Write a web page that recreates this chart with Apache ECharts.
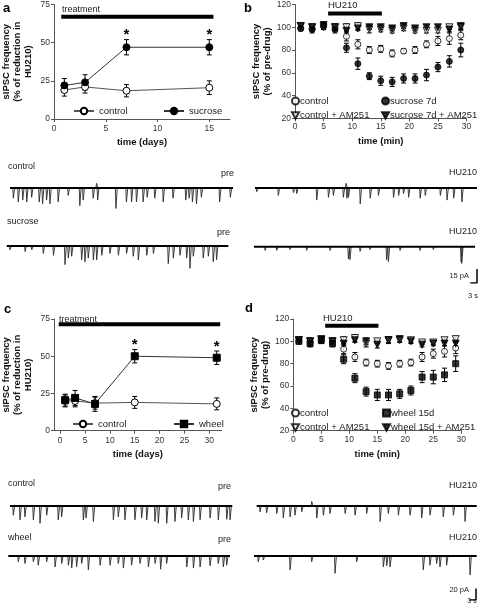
<!DOCTYPE html>
<html><head><meta charset="utf-8">
<script src="https://cdn.jsdelivr.net/npm/echarts@6/dist/echarts.min.js"></script>
<style>html,body{margin:0;padding:0;background:#fff}
#wrap{position:relative;width:480px;height:605px}
#p,#t{position:absolute;left:0;top:0;width:480px;height:605px}
#t{pointer-events:none}</style>
</head><body><div id="wrap"><div id="p"></div><div id="t"></div></div><script>
// ---------------- Panel a ----------------
const aDays = [1, 3, 7, 15];
const aControl = [19, 21, 18.5, 20.5];
const aControlErr = [4, 4, 4, 4.5];
const aSucrose = [22, 24, 47, 47];
const aSucroseErr = [4.5, 5, 5, 5];
const aStarDays = [7, 15];
const aTreatment = [0.7, 15.4];
const aTreatmentLevel = 67;
const aXTicks = [0, 5, 10, 15];

// ---------------- Panel b ----------------
const bTime = [1,3,5,7,9,11,13,15,17,19,21,23,25,27,29];
const bControl = [99,99,101,100,92,85,80,81,77,79,80,85,88,90,93];
const bControlErr = [2,2,3,3,4,4,3,3,3,2,3,3,4,5,4];
const bControlAM = [101,100,100,100,100,101,98,98,97,99,97,97,97,100,100];
const bControlAMErr = [2,2,2,2,3,3,3,2,2,2,2,2,2,2,2];
const bSucrose = [99,98,101,98,82,68,57,53,52,55,55,58,65,70,80];
const bSucroseErr = [2,3,3,3,4,5,3,4,4,4,4,5,4,5,6];
const bSucroseAM = [101,100,102,100,97,99,100,100,99,101,99,100,100,98,101];
const bSucroseAMErr = [2,2,2,2,2,2,2,2,2,2,2,2,2,2,2];
const bHU210 = [5.8, 15.2];
const bHU210Level = 112;

// ---------------- Panel c ----------------
const cDays = [1, 3, 7, 15, 31.5];
const cControl = [20, 20, 18.5, 19, 18];
const cControlErr = [4, 4, 4, 4, 4];
const cWheel = [20.5, 22, 18, 50, 49];
const cWheelErr = [4, 5, 5, 4.5, 4.5];
const cStarDays = [15, 31.5];
const cTreatment = [-0.3, 32.2];
const cTreatmentLevel = 71.5;
const cXTicks = [0, 5, 10, 15, 20, 25, 30];

// ---------------- Panel d ----------------
const dTime = [1,3,5,7,9,11,13,15,17,19,21,23,25,27,29];
const dControl = [100,99,101,100,93,86,81,80,78,80,81,86,89,91,94];
const dControlErr = [2,3,3,3,4,4,3,3,3,3,3,4,4,5,5];
const dControlAM = [101,100,101,100,101,103,98,100,101,101,101,99,99,101,102];
const dControlAMErr = [3,3,2,2,3,3,3,2,2,2,2,2,2,2,2];
const dWheel = [100,98,101,98,84,67,55,52,52,53,56,68,68,70,80];
const dWheelErr = [2,3,3,3,4,4,4,5,5,4,4,5,6,6,7];
const dWheelAM = [101,100,102,100,98,101,100,97,101,102,100,97,98,98,98];
const dWheelAMErr = [2,2,2,2,2,2,3,3,3,2,2,2,2,2,2];
const dHU210 = [5.7, 15.2];
const dHU210Level = 114;

// ---------------- Traces: spikes [time s, amplitude pA] ----------------
const traceDuration = 100;
const tControlPre1 = [[1.5,11],[3.7,15],[5.7,13],[7.5,15],[9.7,10],[13.1,15],[14.6,17],[16.4,13],[17.9,17],[21.6,15],[26.1,8],[31.3,19],[32.8,13],[37.3,11],[38.8,-5],[39.3,13],[47.5,22],[52.2,15],[54.5,15],[56.7,15],[59.7,15],[61.5,10],[64.9,11],[68.7,15],[73.1,11],[78.8,13],[80.3,11],[81.8,15],[83.6,17],[85.8,10],[94.0,15],[98.8,10]];
const tControlHU1 = [[0.8,4],[10.5,8],[17.3,5],[18.8,6],[27.8,13],[33.1,10],[35.3,8],[39.8,10],[41.0,-5],[41.4,11],[42.1,10],[47.4,17],[51.9,11],[55.6,8],[62.4,10],[64.7,8],[66.9,6],[69.2,10],[74.4,11],[76.7,8],[83.5,8],[86.5,13],[89.5,11],[93.2,15]];
const tSucrosePre = [[1.5,4],[8.3,6],[11.3,4],[16.5,8],[21.1,10],[26.3,20],[27.8,13],[29.3,11],[33.8,15],[35.3,17],[36.8,13],[39.1,15],[40.6,15],[42.9,10],[46.6,8],[50.4,10],[54.1,8],[57.1,11],[59.4,15],[63.2,10],[66.2,8],[72.9,19],[75.2,13],[78.2,10],[81.2,13],[82.7,24],[84.2,11],[88.7,13],[91.0,11],[93.2,17],[94.7,15]];
const tSucroseHU = [[5.0,4],[10.3,4],[16.3,3],[23.8,4],[34.4,4],[42.7,13],[43.4,14],[48.0,5],[52.5,3],[60.0,14],[60.8,16],[66.1,4],[75.1,4],[81.1,3],[93.7,16],[94.0,18]];
const tControlPre2 = [[1.5,16],[4.5,24],[6.7,19],[10.5,24],[13.5,30],[16.5,16],[21.7,24],[23.2,19],[33.0,24],[34.2,21],[37.5,27],[46.5,24],[48.7,19],[51.7,24],[56.2,24],[59.2,21],[61.5,24],[65.2,27],[66.7,30],[70.5,30],[74.2,27],[77.2,21],[80.2,24],[82.5,27],[85.5,24],[90.0,21],[93.7,24],[97.5,23],[99.0,24]];
const tControlHU2 = [[1.5,10],[4.5,12],[9.1,13],[12.1,21],[15.2,19],[17.4,16],[20.5,10],[25.0,-8],[27.3,21],[30.3,16],[33.3,13],[40.2,13],[44.7,16],[50.0,13],[56.1,27],[59.8,13],[64.4,16],[69.7,16],[75.0,21],[78.8,16],[84.8,19],[89.4,16],[94.7,27]];
const tWheelPre = [[4.5,10],[7.5,13],[11.3,10],[13.5,16],[17.3,10],[21.1,19],[24.1,13],[27.1,16],[28.6,21],[30.8,19],[33.1,13],[36.1,24],[41.4,16],[45.9,16],[49.6,13],[51.9,21],[55.6,16],[59.4,13],[63.2,19],[66.2,13],[68.7,23],[71.4,13],[80.5,19],[83.5,21],[86.5,19],[91.0,17],[94.7,13],[97.0,19],[98.5,16]];
const tWheelHU = [[1.9,10],[4.2,7],[16.2,24],[25.9,10],[36.4,30],[46.1,10],[58.1,19],[59.6,17],[61.1,19],[76.0,24],[79.0,16],[82.0,13],[83.5,19],[86.5,16],[97.0,33]];
const scaleBar1 = {time: 3, current: 15};
const scaleBar2 = {time: 3, current: 20};

// ======================================================================
const FONT = '"Liberation Sans", Arial, Helvetica, sans-serif';
const AX = '#555';
function txt(text, x, y, opts) {
  return {type: 'text', x, y, silent: true, style: Object.assign({text, font: '9px ' + FONT, fill: '#222',
    align: 'left', verticalAlign: 'middle'}, opts || {})};
}

// ================= Chart 1: the four plots =================
(function () {
  const grids = [], xAxes = [], yAxes = [], series = [], legends = [];
  function addGrid(g) { grids.push(Object.assign({containLabel: false}, g)); return grids.length - 1; }
  function axisBase(extra) {
    return Object.assign({
      type: 'value',
      axisLine: {show: true, onZero: false, lineStyle: {color: AX, width: 1}},
      axisTick: {show: true, length: 3, lineStyle: {color: AX}},
      axisLabel: {fontSize: 8.5, color: '#333', margin: 4, fontFamily: FONT},
      splitLine: {show: false}
    }, extra);
  }
  const nameStyle = {fontSize: 9.5, fontWeight: 'bold', color: '#111', fontFamily: FONT, lineHeight: 11};
  function errBars(ax, xs, ys, es) {
    return {
      type: 'custom', xAxisIndex: ax, yAxisIndex: ax, z: 2, silent: true,
      data: xs.map((x, i) => [x, ys[i], es[i]]),
      encode: {x: 0, y: 1},
      renderItem(params, api) {
        const x = api.value(0), y = api.value(1), e = api.value(2);
        const t = api.coord([x, y + e]), b = api.coord([x, y - e]);
        const w = 2.5, st = {stroke: '#000', lineWidth: 1};
        return {type: 'group', children: [
          {type: 'line', shape: {x1: t[0], y1: t[1], x2: b[0], y2: b[1]}, style: st},
          {type: 'line', shape: {x1: t[0]-w, y1: t[1], x2: t[0]+w, y2: t[1]}, style: st},
          {type: 'line', shape: {x1: b[0]-w, y1: b[1], x2: b[0]+w, y2: b[1]}, style: st}
        ]};
      }
    };
  }
  function stars(ax, starXs, xs, ys, es) {
    return {
      type: 'custom', xAxisIndex: ax, yAxisIndex: ax, z: 4, silent: true,
      data: starXs.map(sx => { const i = xs.indexOf(sx); return [sx, ys[i] + es[i]]; }),
      encode: {x: 0, y: 1},
      renderItem(params, api) {
        const p = api.coord([api.value(0), api.value(1)]);
        return {type: 'text', x: p[0], y: p[1] + 3,
          style: {text: '*', font: 'bold 15px ' + FONT, fill: '#000', align: 'center', verticalAlign: 'bottom'}};
      }
    };
  }
  function bar(ax, range, level) {
    return {type: 'line', xAxisIndex: ax, yAxisIndex: ax, symbol: 'none', silent: true, z: 1,
      lineStyle: {color: '#000', width: 4}, data: [[range[0], level], [range[1], level]]};
  }
  const openStyle = {color: '#fff', borderColor: '#000', borderWidth: 1};
  const fillStyle = {color: '#000', borderColor: '#000', borderWidth: 1};
  function scat(ax, name, xs, ys, symbol, style, size, rot) {
    return {type: 'scatter', name, xAxisIndex: ax, yAxisIndex: ax, z: 3, symbol, symbolSize: size, symbolRotate: rot || 0,
      itemStyle: style, data: xs.map((x, i) => [x, ys[i]])};
  }

  // Panel a
  const gA = addGrid({left: 54, top: 4, width: 176, height: 115});
  xAxes.push(axisBase({gridIndex: gA, min: 0, max: 17,
    axisLabel: {fontSize: 8.5, color: '#333', margin: 5, fontFamily: FONT, customValues: aXTicks},
    axisTick: {show: true, length: 3, lineStyle: {color: AX}, customValues: aXTicks},
    name: 'time (days)', nameLocation: 'middle', nameGap: 18, nameTextStyle: nameStyle}));
  yAxes.push(axisBase({gridIndex: gA, min: 0, max: 75, interval: 25,
    name: 'sIPSC frequency\n(% of reduction in\nHU210)', nameLocation: 'middle', nameGap: 20, nameTextStyle: nameStyle}));
  series.push(bar(gA, aTreatment, aTreatmentLevel));
  series.push(errBars(gA, aDays, aControl, aControlErr));
  series.push(errBars(gA, aDays, aSucrose, aSucroseErr));
  series.push({type: 'line', name: 'a:control', xAxisIndex: gA, yAxisIndex: gA, z: 3, symbol: 'circle', symbolSize: 7,
    itemStyle: openStyle, lineStyle: {color: '#555', width: 1}, data: aDays.map((d, i) => [d, aControl[i]])});
  series.push({type: 'line', name: 'a:sucrose', xAxisIndex: gA, yAxisIndex: gA, z: 3, symbol: 'circle', symbolSize: 7,
    itemStyle: fillStyle, lineStyle: {color: '#333', width: 1}, data: aDays.map((d, i) => [d, aSucrose[i]])});
  series.push(stars(gA, aStarDays, aDays, aSucrose, aSucroseErr));

  // Panel b
  const gB = addGrid({left: 295, top: 4, width: 171.5, height: 114.3});
  xAxes.push(axisBase({gridIndex: gB, min: 0, max: 30, interval: 5,
    name: 'time (min)', nameLocation: 'middle', nameGap: 18, nameTextStyle: nameStyle}));
  yAxes.push(axisBase({gridIndex: gB, min: 20, max: 120, interval: 20,
    name: 'sIPSC frequency\n(% of pre-drug)', nameLocation: 'middle', nameGap: 17, nameTextStyle: nameStyle}));
  series.push(bar(gB, bHU210, bHU210Level));
  [[bControl, bControlErr], [bControlAM, bControlAMErr], [bSucrose, bSucroseErr], [bSucroseAM, bSucroseAMErr]]
    .forEach(([v, e]) => series.push(errBars(gB, bTime, v, e)));
  series.push(scat(gB, 'b:control', bTime, bControl, 'circle', openStyle, 6));
  series.push(scat(gB, 'b:control + AM251', bTime, bControlAM, 'triangle', openStyle, 7, 180));
  series.push(scat(gB, 'b:sucrose 7d', bTime, bSucrose, 'circle', fillStyle, 6));
  series.push(scat(gB, 'b:sucrose 7d + AM251', bTime, bSucroseAM, 'triangle', fillStyle, 7, 180));

  // Panel c
  const gC = addGrid({left: 53, top: 319, width: 168.7, height: 111.7});
  xAxes.push(axisBase({gridIndex: gC, min: -1.25, max: 32.5,
    axisLabel: {fontSize: 8.5, color: '#333', margin: 5, fontFamily: FONT, customValues: cXTicks},
    axisTick: {show: true, length: 3, lineStyle: {color: AX}, customValues: cXTicks},
    name: 'time (days)', nameLocation: 'middle', nameGap: 18, nameTextStyle: nameStyle}));
  yAxes.push(axisBase({gridIndex: gC, min: 0, max: 75, interval: 25,
    name: 'sIPSC frequency\n(% of reduction in\nHU210)', nameLocation: 'middle', nameGap: 20, nameTextStyle: nameStyle}));
  series.push(bar(gC, cTreatment, cTreatmentLevel));
  series.push(errBars(gC, cDays, cControl, cControlErr));
  series.push(errBars(gC, cDays, cWheel, cWheelErr));
  series.push({type: 'line', name: 'c:control', xAxisIndex: gC, yAxisIndex: gC, z: 3, symbol: 'circle', symbolSize: 7,
    itemStyle: openStyle, lineStyle: {color: '#555', width: 1}, data: cDays.map((d, i) => [d, cControl[i]])});
  series.push({type: 'line', name: 'c:wheel', xAxisIndex: gC, yAxisIndex: gC, z: 3, symbol: 'rect', symbolSize: 7,
    itemStyle: fillStyle, lineStyle: {color: '#333', width: 1}, data: cDays.map((d, i) => [d, cWheel[i]])});
  series.push(stars(gC, cStarDays, cDays, cWheel, cWheelErr));

  // Panel d
  const gD = addGrid({left: 293.3, top: 319, width: 168, height: 111.7});
  xAxes.push(axisBase({gridIndex: gD, min: 0, max: 30, interval: 5,
    name: 'time (min)', nameLocation: 'middle', nameGap: 18, nameTextStyle: nameStyle}));
  yAxes.push(axisBase({gridIndex: gD, min: 20, max: 120, interval: 20,
    name: 'sIPSC frequency\n(% of pre-drug)', nameLocation: 'middle', nameGap: 17, nameTextStyle: nameStyle}));
  series.push(bar(gD, dHU210, dHU210Level));
  [[dControl, dControlErr], [dControlAM, dControlAMErr], [dWheel, dWheelErr], [dWheelAM, dWheelAMErr]]
    .forEach(([v, e]) => series.push(errBars(gD, dTime, v, e)));
  series.push(scat(gD, 'd:control', dTime, dControl, 'circle', openStyle, 6));
  series.push(scat(gD, 'd:control + AM251', dTime, dControlAM, 'triangle', openStyle, 7, 180));
  series.push(scat(gD, 'd:wheel 15d', dTime, dWheel, 'rect', fillStyle, 6));
  series.push(scat(gD, 'd:wheel 15d + AM251', dTime, dWheelAM, 'triangle', fillStyle, 7, 180));

  // Legends
  const lf = n => n.slice(2);
  const legText = {fontSize: 9.5, color: '#222', fontFamily: FONT};
  const DOWN_TRI = 'path://M0,0L10,0L5,9Z';
  function leg(data, left, top, extra) {
    legends.push(Object.assign({data, left, top, padding: 0, selectedMode: false, formatter: lf,
      textStyle: legText, itemWidth: 20, itemHeight: 8, itemGap: 3}, extra || {}));
  }
  leg(['a:control'], 73, 106);
  leg(['a:sucrose'], 163, 106);
  leg(['c:control'], 72, 419);
  leg(['c:wheel'], 173, 419);
  const vleg = {orient: 'vertical', itemWidth: 7, itemHeight: 7, itemGap: 4.5,
    textStyle: Object.assign({}, legText, {padding: [0, 0, 0, -4]})};
  leg(['b:control', {name: 'b:control + AM251', icon: DOWN_TRI}], 291, 96, vleg);
  leg(['b:sucrose 7d', {name: 'b:sucrose 7d + AM251', icon: DOWN_TRI}], 381, 96, vleg);
  leg(['d:control', {name: 'd:control + AM251', icon: DOWN_TRI}], 291, 408, vleg);
  leg([{name: 'd:wheel 15d', icon: 'rect'}, {name: 'd:wheel 15d + AM251', icon: DOWN_TRI}], 382, 408, vleg);

  const B13 = 'bold 13px ' + FONT;
  const graphic = [
    txt('a', 3, 8, {font: B13, fill: '#000'}),
    txt('b', 244, 8, {font: B13, fill: '#000'}),
    txt('c', 4, 309, {font: B13, fill: '#000'}),
    txt('d', 245, 308, {font: B13, fill: '#000'}),
    txt('treatment', 62, 9.5),
    txt('treatment', 59, 320),
    txt('HU210', 328, 5.5, {font: '9.5px ' + FONT}),
    txt('HU210', 323, 318.5, {font: '9.5px ' + FONT})
  ];
  const chart = echarts.init(document.getElementById('p'), null, {renderer: 'canvas'});
  chart.setOption({animation: false, backgroundColor: '#fff', textStyle: {fontFamily: FONT},
    grid: grids, xAxis: xAxes, yAxis: yAxes, series, legend: legends, graphic});
})();

// ================= Chart 2: the recordings =================
(function () {
  const grids = [], xAxes = [], yAxes = [], series = [];
  function addGrid(g) { grids.push(Object.assign({containLabel: false}, g)); return grids.length - 1; }
  const S1 = 0.93, S2 = 0.575;           // px per pA for the two recording blocks
  const PX_PER_S = 2.225;                // px per second
  function addTrace(name, spikes, left, right, baseY, s, yMin, yMax) {
    const g = addGrid({left, width: right - left, top: baseY - yMax * s, height: (yMax - yMin) * s});
    xAxes.push({type: 'value', gridIndex: g, min: 0, max: traceDuration, show: false});
    yAxes.push({type: 'value', gridIndex: g, min: yMin, max: yMax, show: false});
    series.push({type: 'custom', name: 'spikes ' + name, xAxisIndex: g, yAxisIndex: g, silent: true, z: 2, clip: false,
      data: spikes, encode: {x: 0, y: 1},
      renderItem(params, api) {
        const t = api.value(0), a = api.value(1);
        const p0 = api.coord([t - 0.25, 0]), p1 = api.coord([t, -a]), p2 = api.coord([t + 0.6, 0]);
        return {type: 'polyline', shape: {points: [p0, p1, p2]}, style: {stroke: '#2a2a2a', lineWidth: 0.9, fill: null}};
      }});
    series.push({type: 'line', name: 'baseline ' + name, xAxisIndex: g, yAxisIndex: g, symbol: 'none', silent: true, z: 3,
      lineStyle: {color: '#000', width: 2}, data: [[0, 0], [traceDuration, 0]]});
  }
  addTrace('t1', tControlPre1, 10, 233, 188, S1, -45, 10);
  addTrace('t2', tControlHU1, 255, 477, 188, S1, -45, 10);
  addTrace('t3', tSucrosePre, 6.7, 228.3, 246, S1, -45, 10);
  addTrace('t4', tSucroseHU, 254, 475, 246.7, S1, -45, 10);
  addTrace('t5', tControlPre2, 10, 232.3, 506, S2, -70, 15);
  addTrace('t6', tControlHU2, 256.7, 476.7, 506, S2, -70, 15);
  addTrace('t7', tWheelPre, 8.3, 230, 556, S2, -70, 15);
  addTrace('t8', tWheelHU, 254, 476.7, 556, S2, -70, 15);

  function addScaleBar(sb, right, bottom, s) {
    const w = sb.time * PX_PER_S, h = sb.current * s;
    const g = addGrid({left: right - w, width: w, top: bottom - h, height: h});
    xAxes.push({type: 'value', gridIndex: g, min: 0, max: sb.time, show: false});
    yAxes.push({type: 'value', gridIndex: g, min: 0, max: sb.current, show: false});
    series.push({type: 'line', xAxisIndex: g, yAxisIndex: g, symbol: 'none', silent: true,
      lineStyle: {color: '#000', width: 1.5}, data: [[0, 0], [sb.time, 0], [sb.time, sb.current]]});
  }
  addScaleBar(scaleBar1, 477, 283, S1);
  addScaleBar(scaleBar2, 476, 600, S2);

  const graphic = [
    txt('control', 8, 167),
    txt('pre', 234, 174, {align: 'right'}),
    txt('HU210', 477, 173, {align: 'right'}),
    txt('sucrose', 7, 222),
    txt('pre', 230, 233, {align: 'right'}),
    txt('HU210', 477, 232, {align: 'right'}),
    txt(scaleBar1.current + ' pA', 469, 276, {align: 'right', font: '7.5px ' + FONT}),
    txt(scaleBar1.time + ' s', 473, 296, {align: 'center', font: '7.5px ' + FONT}),
    txt('control', 8, 484),
    txt('pre', 231, 487, {align: 'right'}),
    txt('HU210', 477, 486, {align: 'right'}),
    txt('wheel', 8, 538),
    txt('pre', 231, 540, {align: 'right'}),
    txt('HU210', 477, 538, {align: 'right'}),
    txt(scaleBar2.current + ' pA', 469, 590, {align: 'right', font: '7.5px ' + FONT}),
    txt(scaleBar2.time + ' s', 472, 601, {align: 'center', font: '7px ' + FONT})
  ];
  const chart = echarts.init(document.getElementById('t'), null, {renderer: 'canvas'});
  chart.setOption({animation: false, backgroundColor: 'transparent', textStyle: {fontFamily: FONT},
    grid: grids, xAxis: xAxes, yAxis: yAxes, series, graphic});
})();
</script></body></html>
